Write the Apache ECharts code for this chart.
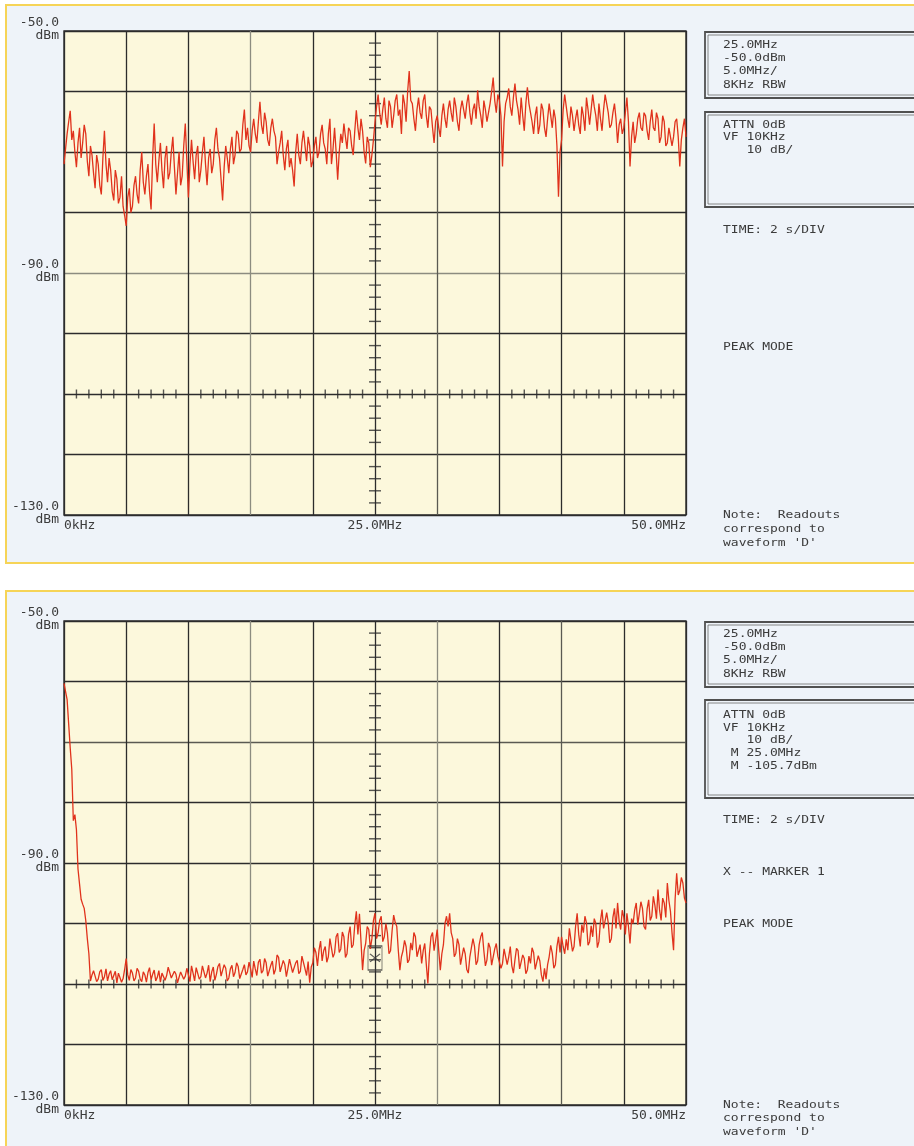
<!DOCTYPE html>
<html><head><meta charset="utf-8">
<script src="https://cdn.jsdelivr.net/npm/echarts@6/dist/echarts.min.js"></script>
<style>html,body{margin:0;padding:0;background:#ffffff;}#c{width:914px;height:1146px;}</style>
</head><body><div id="c"></div>
<script>
// ---- sweep definition (MHz): the analyzer sweeps 0 .. 50 MHz in evenly spaced points ----
const sweepStartMHz = 0;
const sweepStopMHz = 50;

// ---- trace levels (dBm), one value every 0.125 MHz ----
const traceTop = [
 -72,-69.5,-67,-65,-63.2,-68,-66.5,-70,-72.5,-68.5,-66,-71,-68.5,-65.5,-67,-71.5,-74,-69,-70.5,-73.5,
 -76,-70.5,-72,-75.5,-77,-71,-66.5,-72,-75,-71,-73,-76.5,-78,-73,-74.5,-78.5,-77.5,-74,-79,-80.5,
 -82.2,-77.5,-76,-80,-79,-75.5,-74,-77,-78.5,-73,-70,-75,-77,-74,-72,-76.5,-79.5,-71,-65.3,-72,
 -75,-71.5,-68.5,-73,-76,-71,-69,-74.5,-73.5,-70,-67.5,-72.5,-77,-73.5,-70,-75.5,-74,-69,-65.3,-71.5,
 -77.5,-72,-68,-71.5,-74.5,-70.5,-69,-75,-73,-70,-67.5,-72,-75.5,-71,-69.5,-73.5,-72,-68,-66,-69.5,
 -71,-74.5,-78,-72.5,-69,-71,-73.5,-69.5,-67.5,-72,-70.5,-66.5,-67,-70,-69.5,-65.5,-63,-68,-66,-69,
 -70,-66.5,-64.5,-67,-68.5,-65,-61.7,-65.5,-67,-63.5,-65,-68,-69,-66,-64.5,-66.5,-67.5,-72,-70,-68.5,
 -66.5,-70.5,-73,-69.5,-68,-72.5,-71,-73,-75.7,-70,-67,-70.5,-72,-68.5,-66.5,-69,-71.5,-67.5,-69,-72.5,
 -71.5,-69,-67.5,-71,-70,-67,-65.5,-68.5,-69.5,-72,-67,-64.5,-72,-69.5,-66,-70,-74.6,-70,-67,-68.5,
 -65.3,-67.5,-69.5,-66,-66.5,-69,-70.5,-66.5,-63.1,-66,-68,-64.5,-66.5,-70,-71.9,-67.5,-68.5,-72.5,-70.5,-68,
 -65,-62.5,-60.5,-63.5,-65.5,-63,-61,-64.5,-66,-61.5,-62.5,-66,-64,-61.5,-60.5,-64,-63,-67,-60.5,-62,
 -65,-60,-56.6,-61.5,-62,-64.5,-66.5,-63,-61,-63.5,-64.5,-61.5,-60.5,-64,-66,-62.5,-63,-66,-68.5,-65,
 -64,-66,-67.5,-64,-62,-64.5,-66,-63,-61.5,-63.5,-65,-61,-62.5,-65,-66.5,-63,-61.5,-63,-64.5,-62,
 -60.5,-63.5,-65.5,-63,-62,-64.5,-59.8,-62.5,-64,-66,-61.5,-63,-65,-63.5,-62,-60,-57.7,-61.5,-63.5,-60.5,
 -61.5,-64,-72.4,-65,-62,-61,-59.5,-62.5,-64,-61,-58.7,-61.5,-63,-65.5,-61,-64,-66.5,-62,-59.3,-62,
 -63.5,-65,-67,-64,-62.5,-67,-65.5,-62,-63,-66,-67.5,-64.5,-62,-64,-66,-63,-64.5,-69,-77.4,-70,
 -68,-63,-60.5,-62.5,-64.5,-66,-62.5,-64,-66.5,-64.5,-63,-65.5,-67,-62.5,-64,-66.5,-61,-63,-65.5,-63,
 -60.5,-62.5,-64,-66.5,-62,-64.5,-66.5,-63,-60.5,-62,-63.5,-66,-65.5,-63.5,-62,-64.5,-68.5,-65.5,-64.5,-67,
 -66,-63.5,-61,-65,-72.4,-67.5,-65,-68.5,-67,-64.5,-63.5,-66,-66.5,-63.5,-64,-66.5,-68,-65,-63,-66,
 -66.5,-63.5,-64.5,-68.5,-67.5,-64,-65,-69,-68.5,-66,-66,-69,-67.5,-65,-64.5,-67.5,-72.4,-68,-66,-64.5,
 -67.5
];
const traceBottom = [
 -60.3,-60.5,-63,-67,-71,-74.5,-83,-82,-84.5,-91,-93.5,-96,-96.8,-97.5,-99.5,-102.5,-105,-109.5,-108.5,
 -107.8,-108,-109.6,-109.2,-108,-107.6,-109.4,-108.8,-107.5,-109.5,-108.4,-107.8,-109.3,-108.6,-107.9,-109.8,-108.2,-108.3,-109.7,-109.1,-107.6,
 -105.8,-108.5,-109.4,-107.6,-108.2,-109.5,-109,-107.4,-107.9,-109.2,-109.6,-108,-108.5,-109.7,-108.1,-107.3,-109.3,-108.4,-107.7,-109.5,
 -108.9,-107.8,-109.7,-108.2,-108,-109.4,-108.6,-107.2,-107.5,-109,-109.1,-107.9,-108.4,-109.8,-109.5,-108,-107.9,-109.2,-108.7,-107.4,
 -108.5,-109.6,-107,-108.2,-109.5,-107.3,-107.5,-109.2,-108.8,-107,-106.8,-109,-108.2,-106.9,-109.6,-108,-107.2,-109.4,-108.4,-107.1,
 -106.6,-108.7,-108.9,-106.8,-107.4,-109.5,-109,-107.5,-106.9,-108.8,-108.1,-106.5,-107.1,-109.1,-109.3,-107.6,-106.8,-108.5,-108,-106.4,
 -107.5,-108.9,-106.2,-107.5,-108.6,-106.4,-105.9,-108.2,-107.8,-105.8,-106.5,-108.7,-109,-106.9,-106.2,-108.4,-107.6,-105.2,-105.6,-108,
 -108.2,-106.1,-106.8,-108.8,-107.4,-105.9,-105.7,-108.1,-108.4,-106.5,-106.1,-108.3,-107.9,-105.4,-105.7,-107.5,-108.6,-106.3,-109.8,-107.2,
 -106.5,-104,-104.8,-107,-104.4,-102.9,-106.2,-104.5,-103.8,-106.4,-105.5,-102.5,-102.8,-105.6,-104.9,-102.2,-101.6,-104.8,-104.2,-101.4,
 -102.2,-105.6,-105,-101.8,-100.5,-104,-103.5,-100.2,-98,-101.8,-98.4,-103,-107.7,-104.5,-103.3,-100.5,-101,-104.2,-102.5,-99.5,
 -98.3,-102.5,-101.5,-99.5,-98.8,-103,-102.2,-100,-101.6,-105,-104.5,-101.2,-98.6,-99.8,-100.5,-104.5,-107.7,-105.5,-104.5,-102.8,
 -103.8,-106.5,-106,-103.2,-104.4,-101.5,-102.2,-105.5,-105.5,-103.5,-106.6,-104.5,-103.3,-106.8,-109.9,-105,-102.2,-101.5,-104.5,-102.8,
 -101,-104.5,-107.7,-105,-103.5,-100,-98.8,-100.5,-98.3,-101.5,-102.5,-105.5,-104.9,-102.5,-103.5,-106.8,-106.6,-104,-105,-107.6,
 -108.2,-105.5,-104,-102.5,-103.8,-106.8,-106.2,-103.5,-102.2,-101.5,-104.5,-107,-106,-103.2,-104,-106.9,-106.6,-104.2,-103.3,-105.4,
 -105.5,-107.4,-106.6,-104.2,-104,-106.8,-105.5,-103.8,-107,-108.2,-106,-104.1,-104.5,-107.5,-107.7,-105.2,-105.8,-108.3,-107.7,-105.4,
 -106.6,-104,-104.8,-107.6,-107.7,-105.3,-106.2,-108.5,-109.6,-107.4,-109.2,-106.8,-105.5,-103.6,-104.9,-107.4,-106.8,-103.8,-102.2,-104.8,
 -102.2,-103.8,-105,-102.6,-104.4,-100.8,-101,-104.6,-103.8,-100.5,-98.3,-101.8,-103.8,-100.2,-101.5,-98.8,-99.9,-103.6,-103,-100.4,
 -102.2,-99.2,-100,-104,-103,-99.6,-97.7,-100.8,-101,-98.2,-99.9,-103.2,-102.5,-99,-97.5,-100.8,-96.6,-99.6,-101,-97.8,
 -99,-101.8,-98.3,-100.5,-103.3,-99.2,-100,-97.8,-96.6,-100.2,-99.9,-96.4,-97.5,-100.5,-101,-97.6,-96.1,-99.5,-98.8,-95.5,
 -97,-99.2,-94.4,-97.8,-99.5,-95.8,-96.6,-99,-93.3,-96.2,-98,-101.5,-104.4,-96,-91.7,-95.3,-94.5,-92.4,-93.3,-95.8,
 -96.6
];

// ---- axis tick labels ----
const xTickLabels = {0: '0kHz', 25: '25.0MHz', 50: '50.0MHz'};
const yTickLabels = {'-50': '-50.0', '-90': '-90.0', '-130': '-130.0'};
const yUnit = 'dBm';

// ---- graticule centre-line minor ticks ----
const centerLineLevel = -110;
const centerLineFreq = 25;
const hMinorTicksMHz = [1,2,3,4,6,7,8,9,11,12,13,14,16,17,18,19,21,22,23,24,26,27,28,29,31,32,33,34,36,37,38,39,41,42,43,44,46,47,48,49];
const vMinorTicksDb = [-128,-126,-124,-122,-118,-116,-114,-112,-108,-106,-104,-102,-98,-96,-94,-92,-88,-86,-84,-82,-78,-76,-74,-72,-68,-66,-64,-62,-58,-56,-54,-52];

// ---- marker (bottom chart) ----
const markerFreqMHz = 25.0;
const markerLevelDbm = -105.7;

// ---- readout texts ----
const readoutBox1 = ['25.0MHz', '-50.0dBm', '5.0MHz/', '8KHz RBW'];
const readoutBox2Top = ['ATTN 0dB', 'VF 10KHz', '   10 dB/'];
const readoutBox2Bottom = ['ATTN 0dB', 'VF 10KHz', '   10 dB/', ' M 25.0MHz', ' M -105.7dBm'];
const timeText = 'TIME: 2 s/DIV';
const peakText = 'PEAK MODE';
const markerText = 'X -- MARKER 1';
const noteLines = ['Note:  Readouts', 'correspond to', "waveform 'D'"];

const toPairs = arr => {
  const step = (sweepStopMHz - sweepStartMHz) / (arr.length - 1);
  return arr.map((v, i) => [sweepStartMHz + i * step, v]);
};

const FONT = '"DejaVu Sans Mono", monospace';
const TXT = '#3c3c3c';
const DARK = '#2c2c2c';
const LIGHT = '#8c8c80';
const MID = '#5a5a52';
const TRACE = '#e0321c';
const PLOT_BG = '#fcf8dc';
const PANEL_BG = '#eef3f9';
const PANEL_BORDER = '#f6d457';

const gridTops = [31, 621];

function xAxisCfg(gi, colors) {
  return {
    type: 'value', gridIndex: gi, min: 0, max: 50, interval: 5,
    axisLine: {show: false}, axisTick: {show: false},
    splitLine: {show: true, lineStyle: {color: colors, width: 1.3}},
    axisLabel: {
      show: true, interval: 0, hideOverlap: false, margin: 4,
      fontFamily: FONT, fontSize: 13, color: TXT,
      alignMinLabel: 'left', alignMaxLabel: 'right',
      formatter: v => xTickLabels[v] || ''
    }
  };
}
function yAxisCfg(gi, colors) {
  return {
    type: 'value', gridIndex: gi, min: -130, max: -50, interval: 10,
    axisLine: {show: false}, axisTick: {show: false},
    splitLine: {show: true, lineStyle: {color: colors, width: 1.3}},
    axisLabel: {
      show: true, margin: 5, align: 'right',
      formatter: v => yTickLabels[String(v)] ? '{a|' + yTickLabels[String(v)] + '}\n{b|' + yUnit + '}' : '',
      rich: {
        a: {fontFamily: FONT, fontSize: 13, color: TXT, align: 'right', lineHeight: 13},
        b: {fontFamily: FONT, fontSize: 13, color: TXT, align: 'right', lineHeight: 13}
      },
      padding: [0, 0, 4, 0]
    }
  };
}

function tickSeries(gi) {
  return [
    {
      type: 'scatter', xAxisIndex: gi, yAxisIndex: gi, silent: true, z: 3,
      symbol: 'rect', symbolSize: [1.4, 9], itemStyle: {color: DARK},
      data: hMinorTicksMHz.map(f => [f, centerLineLevel])
    },
    {
      type: 'scatter', xAxisIndex: gi, yAxisIndex: gi, silent: true, z: 3,
      symbol: 'rect', symbolSize: [12, 1.4], itemStyle: {color: DARK},
      data: vMinorTicksDb.map(d => [centerLineFreq, d])
    }
  ];
}

function textEl(str, x, y) {
  return {
    type: 'text', x: x, y: y, scaleY: 0.8, z: 100,
    style: {text: str, x: 0, y: 0, font: '13px ' + FONT, fill: TXT, textAlign: 'left', textVerticalAlign: 'middle'}
  };
}
function doubleBox(x, y, w, h) {
  return [
    {type: 'rect', z: 50, shape: {x: x, y: y, width: w, height: h}, style: {fill: 'none', stroke: '#505050', lineWidth: 1.8}},
    {type: 'rect', z: 50, shape: {x: x + 3, y: y + 3, width: w - 6, height: h - 6}, style: {fill: 'none', stroke: '#6a6a6a', lineWidth: 0.8}}
  ];
}

const graphics = [
  {type: 'rect', z: -10, shape: {x: 6, y: 5, width: 930, height: 558}, style: {fill: PANEL_BG, stroke: PANEL_BORDER, lineWidth: 2}},
  {type: 'rect', z: -10, shape: {x: 6, y: 591, width: 930, height: 580}, style: {fill: PANEL_BG, stroke: PANEL_BORDER, lineWidth: 2}},
  ...doubleBox(705, 32, 220, 66),
  ...doubleBox(705, 112, 220, 95),
  ...doubleBox(705, 622, 220, 65),
  ...doubleBox(705, 700, 220, 98)
];
const lh = 13.3;
readoutBox1.forEach((s, i) => graphics.push(textEl(s, 723, 45 + i * lh)));
readoutBox2Top.forEach((s, i) => graphics.push(textEl(s, 723, 125 + i * 12.7)));
graphics.push(textEl(timeText, 723, 230));
graphics.push(textEl(peakText, 723, 347));
noteLines.forEach((s, i) => graphics.push(textEl(s, 723, 515 + i * 14)));

readoutBox1.forEach((s, i) => graphics.push(textEl(s, 723, 634 + i * lh)));
readoutBox2Bottom.forEach((s, i) => graphics.push(textEl(s, 723, 715 + i * 12.8)));
graphics.push(textEl(timeText, 723, 820));
graphics.push(textEl(markerText, 723, 872));
graphics.push(textEl(peakText, 723, 924));
noteLines.forEach((s, i) => graphics.push(textEl(s, 723, 1105 + i * 13.5)));

const xColorsTop = [DARK, DARK, DARK, LIGHT, DARK, DARK, MID, DARK, DARK, DARK, DARK];
const yColorsTop = [DARK, DARK, DARK, DARK, LIGHT, DARK, DARK, DARK, DARK];
const xColorsBot = [DARK, DARK, DARK, LIGHT, DARK, DARK, LIGHT, DARK, MID, DARK, DARK];
const yColorsBot = [DARK, DARK, DARK, DARK, DARK, DARK, MID, DARK, DARK];

const option = {
  animation: false,
  backgroundColor: 'transparent',
  grid: gridTops.map(t => ({
    left: 64, top: t, width: 622, height: 484, show: true,
    backgroundColor: PLOT_BG, borderColor: DARK, borderWidth: 1.4
  })),
  xAxis: [xAxisCfg(0, xColorsTop), xAxisCfg(1, xColorsBot)],
  yAxis: [yAxisCfg(0, yColorsTop), yAxisCfg(1, yColorsBot)],
  graphic: graphics,
  series: [
    ...tickSeries(0),
    ...tickSeries(1),
    {
      type: 'line', xAxisIndex: 0, yAxisIndex: 0, showSymbol: false, z: 5,
      lineStyle: {color: TRACE, width: 1.3}, data: toPairs(traceTop)
    },
    {
      type: 'line', xAxisIndex: 1, yAxisIndex: 1, showSymbol: false, z: 5,
      lineStyle: {color: TRACE, width: 1.3}, data: toPairs(traceBottom)
    },
    {
      type: 'scatter', xAxisIndex: 1, yAxisIndex: 1, silent: true, z: 6,
      symbol: 'rect', symbolSize: [14, 24],
      itemStyle: {color: 'rgba(0,0,0,0)', borderColor: '#3a3a3a', borderWidth: 1},
      data: [[markerFreqMHz, markerLevelDbm]]
    },
    {
      type: 'scatter', xAxisIndex: 1, yAxisIndex: 1, silent: true, z: 6,
      symbol: 'path://M0,0L10,8M0,8L10,0', symbolSize: [10, 8],
      itemStyle: {color: 'rgba(0,0,0,0)', borderColor: '#3a3a3a', borderWidth: 1.2},
      data: [[markerFreqMHz, markerLevelDbm]]
    }
  ]
};

const chart = echarts.init(document.getElementById('c'), null, {renderer: 'canvas'});
chart.setOption(option);
</script>
</body></html>
